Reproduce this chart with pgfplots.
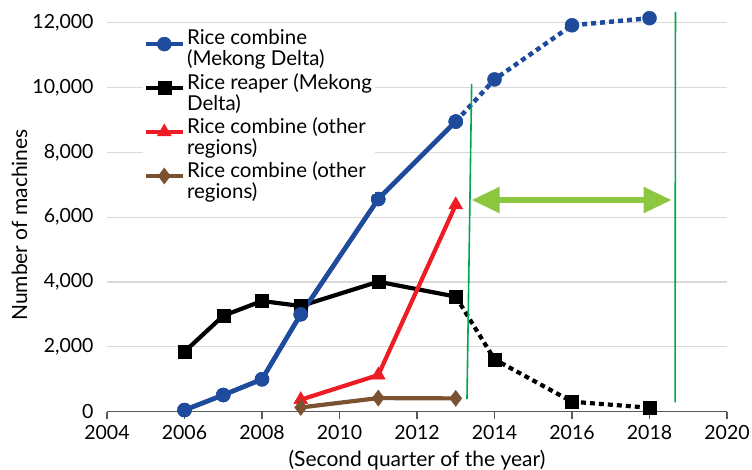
\documentclass[border=0pt]{standalone}
\usepackage{fontspec}
\setmainfont{Lato}
\usepackage{pgfplots}
\pgfplotsset{compat=1.18}
\usetikzlibrary{arrows.meta}
\definecolor{cblue}{HTML}{1F4B9C}
\definecolor{cred}{HTML}{EE1C25}
\definecolor{cbrown}{HTML}{7B5230}
\definecolor{cgreen}{HTML}{00A651}
\definecolor{carrow}{HTML}{8DC63F}
\definecolor{axgray}{HTML}{595959}
\definecolor{gridgray}{HTML}{D9D9D9}
\begin{document}
\fontsize{19}{16}\selectfont
\begin{tikzpicture}
\useasboundingbox (-107pt,-58.3pt) rectangle (645pt,411.7pt);
\begin{axis}[
 scale only axis, width=620pt, height=389pt,
 xmin=2004, xmax=2020, ymin=0, ymax=12000,
 clip=false,
 axis x line=bottom, axis y line=left,
 x axis line style={-, draw=axgray, line width=1.5pt},
 y axis line style={draw=none},
 xtick={2004,2006,...,2020},
 ytick={0,2000,...,12000},
 ymajorgrids, grid style={draw=gridgray, line width=1.2pt},
 tick align=outside,
 xtick style={draw=axgray, line width=1.5pt},
 ytick style={draw=none},
 major tick length=7pt,
 scaled y ticks=false,
 /pgf/number format/assume math mode=true,
 yticklabel style={/pgf/number format/1000 sep={,}},
 xticklabel style={/pgf/number format/1000 sep={}},
 ticklabel style={font=\fontsize{19.5}{16}\selectfont},
 ylabel={Number of machines},
 xlabel={(Second quarter of the year)},
 label style={font=\fontsize{21}{16}\selectfont},
 ylabel style={at={(axis description cs:-0.141,0.48)}, anchor=center},
 xlabel style={at={(axis description cs:0.5,-0.124)}, anchor=center},
 legend style={at={(axis description cs:0.057,0.99)}, anchor=north west, draw=none, fill=white, inner sep=1pt, row sep=11pt, font=\fontsize{20.5}{17}\selectfont},
 legend cell align=left,
 legend image code/.code={\draw[mark repeat=2,mark phase=2,#1] plot coordinates {(0pt,0pt) (18.5pt,0pt) (37pt,0pt)};},
]
% dotted projections (drawn first)
\addplot[cblue, line width=4.5pt, dash pattern=on 5pt off 4pt, mark=*, mark size=7pt, mark options={solid, line width=0.5pt, fill=cblue}, mark indices={2,3,4}, forget plot]
 coordinates {(2013,8950) (2014,10250) (2016,11920) (2018,12140)};
\addplot[black, line width=4.2pt, dash pattern=on 5pt off 4pt, mark=square*, mark size=6.5pt, mark options={solid, line width=0.5pt, fill=black}, mark indices={2,3,4}, forget plot]
 coordinates {(2013,3550) (2014,1615) (2016,308) (2018,123)};
% legend series
\addplot[cblue, line width=4.5pt, mark=*, mark size=7pt, mark options={solid, line width=0.5pt, fill=cblue}]
 coordinates {(2006,50) (2007,515) (2008,1000) (2009,3005) (2011,6560) (2013,8950)};
\addlegendentry{\begin{tabular}{@{}l@{}}Rice combine\\(Mekong Delta)\end{tabular}}
\addplot[black, line width=4.2pt, mark=square*, mark size=6.5pt, mark options={solid, line width=0.5pt, fill=black}]
 coordinates {(2006,1850) (2007,2960) (2008,3415) (2009,3260) (2011,4010) (2013,3550)};
\addlegendentry{\begin{tabular}{@{}l@{}}Rice reaper (Mekong\\Delta)\end{tabular}}
\addplot[cred, line width=4.2pt, mark=triangle*, mark size=8pt, mark options={solid, line width=0.5pt, fill=cred}]
 coordinates {(2009,370) (2011,1130) (2013,6380)};
\addlegendentry{\begin{tabular}{@{}l@{}}Rice combine (other\\regions)\end{tabular}}
\addplot[cbrown, line width=4.2pt, mark=diamond*, mark size=8pt, mark options={solid, line width=0.5pt, fill=cbrown}]
 coordinates {(2009,130) (2011,420) (2013,410)};
\addlegendentry{\begin{tabular}{@{}l@{}}Rice combine (other\\regions)\end{tabular}}
% blue on top of black
\addplot[cblue, line width=4.5pt, mark=*, mark size=7pt, mark options={solid, line width=0.5pt, fill=cblue}, forget plot]
 coordinates {(2006,50) (2007,515) (2008,1000) (2009,3005) (2011,6560) (2013,8950)};
% green markers
\addplot[cgreen, line width=1.6pt, forget plot] coordinates {(2013.29,390) (2013.41,10110)};
\addplot[cgreen, line width=1.6pt, forget plot] coordinates {(2018.66,290) (2018.67,12330)};
\addplot[carrow, line width=5.5pt, {Triangle[width=25pt,length=28pt]}-{Triangle[width=25pt,length=28pt]}, forget plot]
 coordinates {(2013.41,6530) (2018.57,6530)};
\end{axis}
\end{tikzpicture}
\end{document}
